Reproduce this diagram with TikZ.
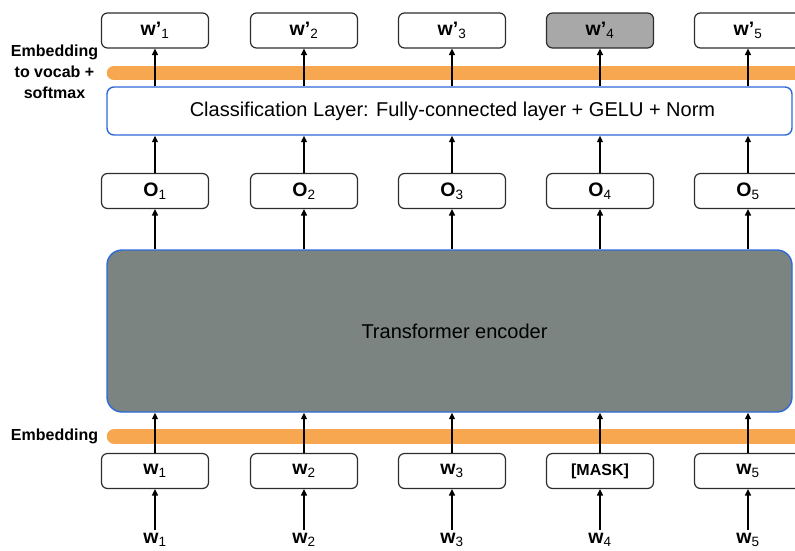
\documentclass[tikz,border=0pt]{standalone}
\usepackage{fontspec}
\setmainfont{Liberation Sans}
\usetikzlibrary{arrows.meta}

\definecolor{boxline}{RGB}{45,45,45}
\definecolor{layerblue}{RGB}{45,105,215}
\definecolor{encgray}{RGB}{124,132,130}
\definecolor{maskgray}{RGB}{168,168,168}
\definecolor{embor}{RGB}{247,167,80}

\tikzset{
  tokbox/.style={draw=boxline, line width=1.2pt, rounded corners=6pt, fill=white,
    minimum width=107pt, minimum height=35pt, inner sep=0pt,
    font=\fontsize{19.5}{22}\selectfont\bfseries},
  layerbox/.style={draw=layerblue, line width=1.4pt, inner sep=0pt,
    font=\fontsize{20}{24}\selectfont},
  embbar/.style={embor, line width=14.5pt, line cap=round},
  uparrow/.style={draw=black, line width=1.3pt, -{Triangle[length=6.5pt,width=6pt]}},
  sidelabel/.style={font=\fontsize{16}{21.2}\selectfont\bfseries, align=center, inner sep=0pt},
  toklabel/.style={font=\fontsize{19.5}{22}\selectfont\bfseries, inner sep=0pt}
}
\newcommand{\sbs}[1]{\textsubscript{\normalfont\fontsize{13.5}{14}\selectfont #1}}

\begin{document}
\begin{tikzpicture}[x=1pt,y=-1pt]
\useasboundingbox (0,0) rectangle (795,550);
\clip (0,0) rectangle (795,550);

% embedding bars
\draw[embbar] (114,73) -- (810,73);
\draw[embbar] (114,436.5) -- (810,436.5);

% side labels
\node[sidelabel] (lblout) at (54.5,72) {Embedding\\to vocab +\\softmax};
\node[sidelabel] (lblin) at (54.5,436) {Embedding};

% layers
\node[layerbox, fill=white, rounded corners=7pt, minimum width=685pt, minimum height=48pt] (cls)
  at (449.5,111) {\hspace*{6pt}Classification Layer: Fully-connected layer + GELU + Norm};
\node[layerbox, fill=encgray, rounded corners=15pt, minimum width=685pt, minimum height=162pt] (enc)
  at (449.5,331) {\hspace*{10pt}Transformer encoder};

% columns
\foreach \i/\x in {1/155,2/304,3/452,4/600,5/748}{
  \node[tokbox] (o\i) at (\x,191) {O\sbs{\i}};
  \node[toklabel] (tok\i) at (\x,540) {w\sbs{\i}};
  \draw[uparrow] (enc.north -| o\i.south) -- (o\i.south);
  \draw[uparrow] (o\i.north) -- (o\i.north |- cls.south);
}
\foreach \i/\x in {1/155,2/304,3/452,5/748}{
  \node[tokbox] (in\i) at (\x,471) {w\sbs{\i}};
}
\node[tokbox, font=\fontsize{16}{18}\selectfont\bfseries] (in4) at (600,471) {[MASK]};
\foreach \i/\x in {1/155,2/304,3/452,5/748}{
  \node[tokbox] (out\i) at (\x,30.5) {w'\sbs{\i}};
}
\node[tokbox, fill=maskgray] (out4) at (600,30.5) {w'\sbs{4}};

\foreach \i in {1,...,5}{
  \draw[uparrow] (tok\i.north) ++(0,-3) -- (in\i.south);
  \draw[uparrow] (in\i.north) -- (in\i.north |- enc.south);
  \draw[uparrow] (cls.north -| out\i.south) -- (out\i.south);
}
\end{tikzpicture}
\end{document}
